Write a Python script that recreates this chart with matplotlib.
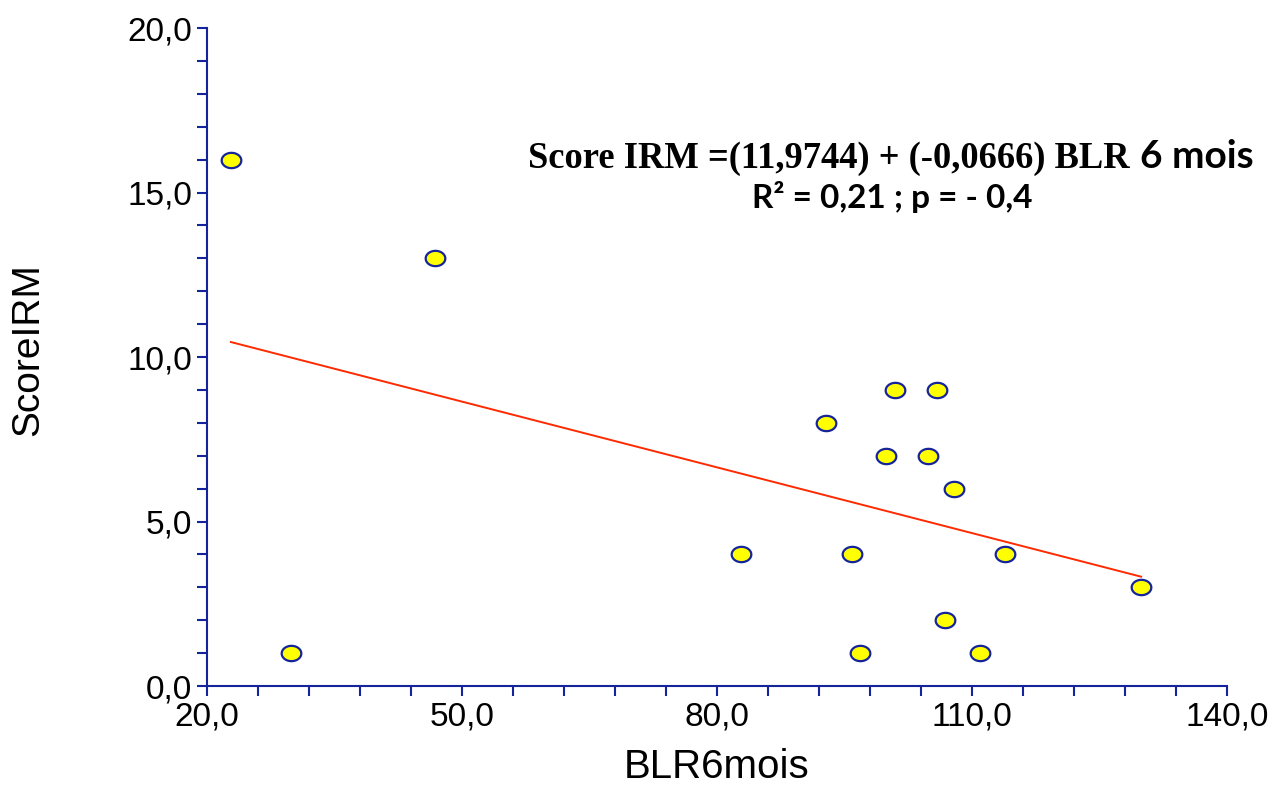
import matplotlib
matplotlib.use("Agg")
import matplotlib.pyplot as plt
import numpy as np
from matplotlib.path import Path
from matplotlib.ticker import FuncFormatter
from matplotlib.transforms import offset_copy

# BLR 6 mois vs Score IRM
blr6mois = [22.8, 46.8, 29.9, 82.8, 92.8, 95.9, 96.8, 99.9, 100.9,
            104.8, 105.9, 106.8, 107.9, 110.9, 113.9, 129.9]
score_irm = [16, 13, 1, 4, 8, 4, 1, 7, 9, 7, 9, 2, 6, 1, 4, 3]

intercept = 11.9744
slope = -0.0666

AXIS_BLUE = "#15249a"
LINE_RED = "#ff2a00"
plt.rcParams["font.family"] = ["Liberation Sans", "DejaVu Sans"]


def comma_fmt(v, pos):
    return f"{v:.1f}".replace(".", ",")


# ellipse marker (wider than tall)
theta = np.linspace(0, 2 * np.pi, 60)
ellipse = Path(np.column_stack([np.cos(theta), 0.78 * np.sin(theta)]), closed=True)

fig = plt.figure(figsize=(12.81, 7.85), dpi=100)
ax = fig.add_axes([0.1616, 0.1261, 0.7962, 0.8382])

xs = np.array([min(blr6mois), max(blr6mois)])
ax.plot(xs, intercept + slope * xs, color=LINE_RED, lw=1.4, zorder=2)
ax.scatter(blr6mois, score_irm, marker=ellipse, s=200, facecolor="#ffff00",
           edgecolor=AXIS_BLUE, linewidths=1.6, zorder=3, clip_on=False)

ax.set_xlim(20, 140)
ax.set_ylim(0, 20)
ax.set_xticks(np.arange(20, 141, 6))
ax.set_yticks(np.arange(0, 21, 1))
ax.xaxis.set_major_formatter(FuncFormatter(lambda v, p: comma_fmt(v, p) if abs((v - 20) % 30) < 1e-6 else ""))
ax.yaxis.set_major_formatter(FuncFormatter(lambda v, p: comma_fmt(v, p) if abs(v % 5) < 1e-6 else ""))

for side in ["top", "right"]:
    ax.spines[side].set_visible(False)
for side in ["left", "bottom"]:
    ax.spines[side].set_color(AXIS_BLUE)
    ax.spines[side].set_linewidth(1.5)
ax.tick_params(axis="both", direction="out", length=7.5, width=1.5, color=AXIS_BLUE,
               labelsize=24, labelcolor="black")
ax.tick_params(axis="y", pad=3)
ax.tick_params(axis="x", pad=4)

ax.set_xlabel("BLR6mois", fontsize=29, labelpad=11)
ax.set_ylabel("ScoreIRM", fontsize=28)
ax.yaxis.set_label_coords(-0.158, 0.511)

# equation: serif part then sans "6 mois" on the same baseline
t1 = ax.text(0.3145, 0.787, "Score IRM =(11,9744) + (-0,0666) BLR", transform=ax.transAxes,
             fontsize=26.3, fontweight="bold", family="Liberation Serif", va="baseline")
fig.canvas.draw()
x_end = ax.transAxes.inverted().transform(t1.get_window_extent().get_points()[1])[0]
ax.text(x_end, 0.787, "6 mois", transform=offset_copy(ax.transAxes, fig=fig, x=11, units="dots"),
        fontsize=28, fontweight="bold", family=["Lato", "DejaVu Sans"], va="baseline")
ax.text(0.6716, 0.726, "R² = 0,21 ; p = - 0,4", transform=ax.transAxes, ha="center",
        fontsize=24, fontweight="bold", family=["Lato", "DejaVu Sans"], va="baseline")

fig.savefig("out.png", dpi=100)
